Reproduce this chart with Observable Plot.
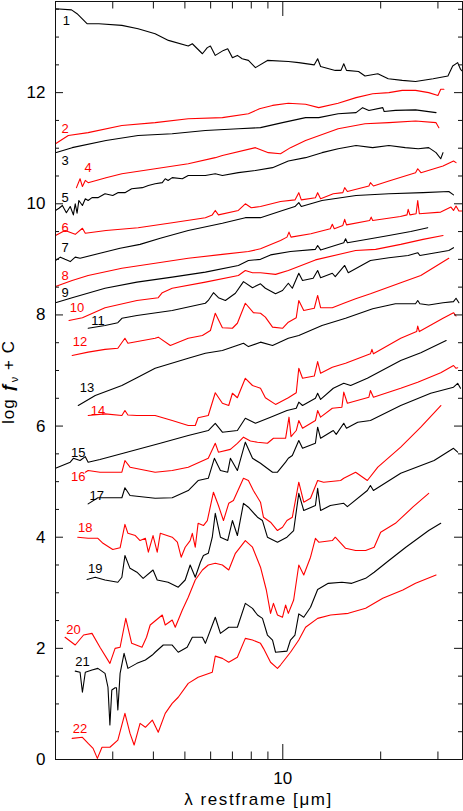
<!DOCTYPE html>
<html>
<head>
<meta charset="utf-8">
<script src="https://cdn.jsdelivr.net/npm/d3@7"></script>
<script src="https://cdn.jsdelivr.net/npm/@observablehq/plot@0.6"></script>
<style>
  html, body { margin: 0; padding: 0; background: #fff; }
  #chart svg { display: block; }
</style>
</head>
<body>
<div id="chart"></div>
<script>
// ---- data: [restframe wavelength (µm), log f_nu + C] ----
const s1 = [[2.0,13.51],[2.24,13.49],[2.33,13.42],[2.5,13.24],[2.72,13.24],[3.2,13.21],[3.59,13.15],[4.05,13.06],[4.45,12.94],[5.12,12.84],[5.27,12.88],[5.66,12.7],[5.86,12.81],[5.99,12.84],[6.2,12.67],[6.57,12.76],[6.77,12.79],[7.0,12.63],[7.25,12.67],[7.5,12.61],[7.84,12.58],[8.24,12.45],[8.97,12.58],[10.4,12.56],[11.2,12.54],[12.5,12.5],[12.8,12.61],[13.07,12.47],[14.5,12.4],[15.1,12.4],[15.4,12.52],[15.7,12.4],[17.1,12.38],[17.9,12.3],[19.6,12.34],[21.1,12.25],[23.3,12.22],[25.6,12.2],[29.0,12.25],[32.2,12.3],[33.3,12.48],[34.5,12.54],[35.2,12.42],[35.6,12.39]];
const s2 = [[2.0,11.08],[2.19,11.23],[2.52,11.28],[3.2,11.41],[4.05,11.46],[5.12,11.53],[6.52,11.55],[7.84,11.62],[8.48,11.71],[9.3,11.77],[10.4,11.81],[11.75,11.79],[12.9,11.73],[14.8,11.81],[16.8,11.91],[18.9,11.98],[21.2,12.0],[23.3,12.04],[25.6,12.04],[28.1,12.0],[30.0,11.95],[30.6,12.06],[31.3,12.06]];
const s3 = [[2.0,10.92],[2.25,11.01],[2.86,11.14],[3.59,11.23],[4.57,11.26],[5.78,11.32],[7.3,11.35],[8.54,11.37],[9.98,11.46],[11.75,11.55],[12.9,11.55],[14.8,11.62],[16.8,11.64],[17.6,11.73],[18.4,11.68],[20.3,11.73],[20.5,11.66],[22.2,11.68],[25.6,11.69],[29.6,11.64]];
const s4 = [[2.32,10.29],[2.38,10.45],[2.42,10.31],[2.47,10.42],[2.52,10.38],[2.86,10.47],[3.2,10.54],[4.05,10.63],[5.12,10.72],[6.2,10.83],[6.52,10.87],[8.24,11.01],[9.03,10.92],[9.84,10.9],[10.56,11.01],[11.75,11.14],[14.8,11.35],[17.9,11.44],[21.2,11.46],[25.6,11.49],[29.6,11.46],[30.2,11.37]];
const s5 = [[2.0,9.88],[2.05,9.92],[2.1,9.97],[2.16,9.84],[2.22,9.95],[2.27,9.8],[2.3,10.0],[2.33,9.83],[2.36,10.06],[2.42,9.97],[2.47,10.09],[2.52,10.06],[2.59,10.11],[2.7,10.11],[2.84,10.18],[3.0,10.15],[3.11,10.2],[3.27,10.2],[3.43,10.27],[3.7,10.29],[3.86,10.33],[4.05,10.36],[4.26,10.38],[4.35,10.45],[4.44,10.42],[4.57,10.47],[4.91,10.45],[5.12,10.51],[5.78,10.51],[6.2,10.54],[6.52,10.51],[7.3,10.56],[8.24,10.6],[9.3,10.65],[10.4,10.77],[11.75,10.83],[13.2,10.92],[14.8,10.99],[16.8,11.05],[18.9,11.01],[21.2,11.05],[23.8,11.01],[26.1,10.99],[28.1,11.01],[29.6,10.92],[30.6,10.81],[31.1,10.92]];
const s6 = [[2.0,9.43],[2.14,9.52],[2.3,9.45],[2.42,9.56],[2.47,9.47],[2.86,9.52],[3.59,9.57],[4.57,9.66],[5.78,9.75],[6.07,9.8],[6.2,9.88],[6.34,9.8],[7.3,9.88],[7.67,10.0],[8.0,9.93],[8.54,9.95],[9.84,10.04],[10.9,10.07],[11.2,10.2],[11.4,10.07],[12.6,10.11],[12.8,10.2],[13.07,10.09],[14.3,10.18],[15.3,10.2],[15.5,10.29],[15.8,10.22],[18.4,10.32],[18.6,10.38],[19.0,10.32],[21.2,10.41],[25.6,10.56],[26.0,10.63],[26.6,10.56],[31.1,10.68],[33.5,10.77],[34.1,10.74]];
const s7 = [[2.0,8.98],[2.07,9.04],[2.14,9.0],[2.22,8.96],[2.3,9.04],[2.38,9.02],[2.74,9.11],[3.16,9.2],[3.64,9.27],[4.2,9.38],[5.12,9.52],[6.52,9.65],[7.67,9.75],[8.54,9.75],[9.98,9.88],[10.9,9.95],[11.2,10.02],[11.4,9.95],[13.2,10.06],[16.8,10.15],[21.2,10.18],[27.0,10.2],[32.4,10.22],[33.5,10.16]];
const s8 = [[2.0,8.51],[2.25,8.62],[2.52,8.71],[3.2,8.84],[4.05,8.93],[5.12,9.02],[6.52,9.09],[7.84,9.14],[8.54,9.19],[9.84,9.34],[10.3,9.4],[10.45,9.49],[10.6,9.4],[12.2,9.46],[14.0,9.55],[14.2,9.63],[14.4,9.55],[15.3,9.61],[15.5,9.72],[15.7,9.62],[18.5,9.7],[18.7,9.76],[18.9,9.7],[23.0,9.77],[24.1,9.8],[24.3,9.9],[24.6,9.8],[25.7,9.82],[26.0,10.06],[26.3,9.82],[30.6,9.85],[32.9,9.94],[33.5,9.88],[34.1,9.96],[34.8,9.87],[35.6,9.87]];
const s9 = [[2.0,8.22],[2.25,8.31],[2.84,8.48],[3.56,8.59],[4.57,8.68],[5.78,8.77],[7.3,8.89],[7.84,8.98],[8.54,9.0],[9.17,9.08],[10.56,9.14],[12.6,9.18],[12.8,9.25],[13.07,9.17],[15.4,9.3],[15.6,9.37],[15.8,9.3],[18.6,9.37],[21.2,9.43],[24.75,9.5],[27.9,9.57]];
const s10 = [[2.2,7.9],[2.42,7.95],[2.84,8.13],[3.56,8.26],[4.14,8.31],[4.26,8.4],[4.57,8.48],[5.78,8.59],[7.3,8.71],[7.67,8.8],[8.07,8.76],[8.54,8.76],[9.5,8.73],[10.4,8.8],[12.6,8.99],[16.75,9.16],[19.3,9.18],[23.05,9.27],[27.0,9.36],[31.1,9.43]];
const s11 = [[2.52,7.76],[2.84,7.81],[3.11,7.86],[3.2,7.94],[3.56,7.99],[4.57,8.08],[5.78,8.21],[5.9,8.26],[6.12,8.4],[6.34,8.31],[6.66,8.26],[7.15,8.39],[7.57,8.6],[8.07,8.49],[8.54,8.56],[8.84,8.48],[9.5,8.38],[9.98,8.44],[10.4,8.57],[10.7,8.48],[11.2,8.75],[11.5,8.62],[12.4,8.66],[12.8,8.8],[13.07,8.67],[14.2,8.75],[14.5,8.69],[15.5,8.89],[15.9,8.76],[18.6,8.98],[21.2,9.03],[24.3,9.07],[26.0,9.12],[26.4,9.07],[32.4,9.16],[33.5,9.21]];
const s12 = [[2.25,7.27],[2.52,7.33],[2.84,7.38],[3.11,7.4],[3.27,7.58],[3.34,7.49],[4.05,7.58],[4.14,7.6],[4.51,7.45],[5.12,7.58],[5.66,7.63],[5.99,7.72],[6.2,8.03],[6.52,7.77],[7.0,7.76],[7.25,7.85],[7.67,8.21],[8.12,8.04],[8.54,8.03],[8.84,7.96],[9.3,7.78],[9.98,7.76],[10.4,7.87],[11.0,7.95],[11.2,8.26],[11.6,8.08],[12.5,8.12],[12.8,8.35],[13.07,8.13],[14.2,8.13],[15.4,8.21],[16.75,8.29],[18.6,8.38],[23.05,8.58],[26.57,8.71],[32.4,9.02]];
const s13 = [[2.35,6.37],[2.65,6.55],[3.2,6.73],[3.56,6.87],[4.05,7.04],[5.12,7.22],[5.78,7.31],[6.52,7.36],[7.57,7.49],[7.84,7.43],[8.54,7.51],[9.3,7.45],[10.4,7.58],[11.2,7.63],[13.2,7.81],[15.6,7.94],[18.9,8.11],[22.2,8.2],[25.6,8.2],[26.0,8.26],[26.4,8.2],[28.1,8.18],[31.1,8.22],[33.5,8.24],[34.1,8.3],[34.8,8.22]];
const s14 = [[2.52,6.19],[2.84,6.22],[3.2,6.19],[3.27,6.28],[3.34,6.2],[3.56,6.19],[4.05,6.19],[4.57,6.1],[5.12,6.01],[5.38,6.01],[5.49,6.15],[5.9,6.19],[6.2,6.6],[6.52,6.41],[6.82,6.37],[7.0,6.59],[7.25,6.51],[7.67,6.86],[8.07,6.73],[8.54,6.68],[8.84,6.51],[9.5,6.39],[10.4,6.51],[11.0,6.6],[11.2,7.04],[11.5,6.86],[12.5,6.9],[12.8,7.16],[13.07,6.95],[14.2,7.06],[15.6,7.13],[18.6,7.3],[18.8,7.38],[19.0,7.3],[23.05,7.58],[25.8,7.7],[26.0,7.8],[26.3,7.7],[31.1,7.94],[33.5,8.04],[34.1,7.98]];
const s15 = [[2.0,5.24],[2.22,5.35],[2.27,5.42],[2.38,5.38],[2.47,5.45],[2.52,5.35],[2.74,5.4],[3.23,5.51],[4.2,5.69],[5.12,5.83],[5.9,5.92],[6.2,6.05],[6.52,5.89],[7.25,5.92],[7.67,6.14],[8.24,6.05],[9.17,6.16],[10.3,6.28],[11.0,6.32],[11.2,6.43],[11.5,6.37],[12.6,6.5],[12.8,6.59],[13.07,6.48],[14.3,6.68],[15.4,6.77],[16.17,6.73],[18.2,6.86],[23.05,7.18],[26.57,7.32],[31.8,7.54]];
const s16 = [[2.47,5.17],[2.52,5.2],[2.74,5.17],[3.2,5.17],[3.27,5.38],[3.39,5.26],[4.05,5.17],[4.57,5.2],[5.12,5.26],[5.9,5.42],[6.2,5.69],[6.34,5.53],[6.9,5.58],[7.25,5.69],[7.57,5.8],[7.95,5.73],[8.36,5.71],[8.97,5.69],[9.36,5.78],[10.2,5.78],[10.45,6.16],[10.6,5.81],[11.0,5.92],[11.2,6.1],[11.5,5.96],[12.6,6.1],[12.8,6.28],[13.07,6.16],[14.2,6.32],[15.2,6.34],[15.4,6.61],[15.8,6.41],[18.4,6.52],[18.6,6.64],[19.0,6.52],[23.05,6.68],[26.0,6.79],[30.6,6.96],[33.5,7.09],[34.1,7.04],[34.5,7.05]];
const s17 = [[2.52,4.6],[2.7,4.71],[3.2,4.71],[3.27,4.89],[3.39,4.75],[4.05,4.7],[4.57,4.71],[5.12,4.84],[5.49,5.02],[5.9,5.06],[6.16,5.42],[6.43,5.2],[6.77,5.17],[6.9,5.42],[7.25,5.2],[7.67,5.71],[8.07,5.42],[8.54,5.33],[8.72,5.29],[9.3,5.17],[9.63,5.17],[10.2,5.35],[10.4,5.42],[10.7,5.47],[11.2,5.74],[11.5,5.6],[12.6,5.69],[12.8,5.98],[13.07,5.78],[14.3,5.92],[14.6,5.85],[15.4,6.05],[15.7,5.96],[17.0,6.07],[18.6,6.1],[23.05,6.37],[28.5,6.59],[33.5,6.7],[34.5,6.77],[35.2,6.68]];
const s18 = [[2.34,4.0],[2.52,3.98],[2.7,3.98],[2.8,3.89],[3.0,3.78],[3.16,3.81],[3.27,4.23],[3.34,4.07],[3.52,4.03],[3.64,3.94],[3.78,3.98],[3.86,3.73],[3.99,4.03],[4.11,3.73],[4.2,4.07],[4.57,4.0],[4.74,3.91],[4.87,3.64],[5.01,3.82],[5.19,3.94],[5.27,4.07],[5.38,3.82],[5.49,4.25],[5.7,4.21],[5.86,4.3],[6.12,4.81],[6.34,4.57],[6.57,4.3],[6.82,4.61],[7.05,4.66],[7.57,5.06],[7.84,5.02],[8.12,4.84],[8.54,4.63],[8.72,4.36],[9.17,4.27],[9.63,4.12],[9.98,4.18],[10.3,4.3],[10.7,4.36],[11.2,4.99],[11.6,4.63],[12.17,4.7],[12.8,5.02],[13.35,4.99],[15.06,5.02],[15.4,5.06],[16.75,5.17],[18.2,5.02],[19.6,5.26],[23.05,5.62],[26.57,5.98],[30.62,6.37]];
const s19 = [[2.5,3.24],[2.65,3.28],[2.84,3.23],[3.11,3.19],[3.2,3.28],[3.27,3.67],[3.39,3.44],[3.56,3.37],[3.72,3.26],[3.99,3.41],[4.11,3.23],[4.44,3.19],[4.77,3.1],[5.01,3.23],[5.19,3.5],[5.38,3.28],[5.58,3.55],[5.7,3.67],[5.9,3.71],[6.07,4.0],[6.2,4.43],[6.43,4.0],[6.77,3.94],[7.0,4.3],[7.25,4.03],[7.57,4.61],[7.84,4.54],[8.36,4.36],[8.66,4.3],[8.97,4.0],[9.63,3.91],[10.3,4.0],[10.8,4.12],[11.2,4.79],[11.6,4.48],[12.6,4.57],[12.8,4.88],[13.07,4.48],[14.0,4.57],[15.4,4.61],[15.8,4.55],[18.2,4.84],[18.6,4.93],[19.0,4.84],[23.05,5.15],[29.2,5.38],[33.5,5.6],[34.5,5.53]];
const s20 = [[2.14,2.2],[2.3,2.06],[2.44,2.24],[2.59,2.27],[2.74,2.02],[2.94,1.73],[3.05,2.0],[3.16,2.02],[3.29,2.54],[3.43,2.09],[3.69,2.02],[3.81,2.2],[3.91,2.42],[4.26,2.6],[4.35,2.42],[4.57,2.51],[4.67,2.38],[4.91,2.69],[5.12,2.92],[5.38,3.23],[5.66,3.41],[5.9,3.5],[6.2,3.53],[6.52,3.5],[6.82,3.41],[7.15,3.71],[7.67,3.94],[8.07,3.82],[8.54,3.46],[8.9,3.05],[9.17,2.63],[9.36,2.81],[9.63,2.6],[9.98,2.56],[10.2,2.78],[10.4,2.63],[10.8,2.87],[11.2,3.5],[11.6,3.32],[12.17,3.64],[12.6,3.98],[12.9,3.91],[14.2,3.94],[14.5,4.0],[15.6,3.8],[16.75,3.76],[17.98,3.76],[19.1,3.82],[20.0,4.09],[22.2,4.25],[25.1,4.54],[28.1,4.79]];
const s21 = [[2.3,1.59],[2.38,1.57],[2.42,1.21],[2.47,1.57],[2.59,1.61],[2.7,1.64],[2.84,1.55],[2.9,1.3],[2.94,0.62],[2.98,1.25],[3.05,1.29],[3.08,1.29],[3.11,0.89],[3.16,1.55],[3.25,1.91],[3.34,1.64],[3.56,1.73],[3.78,1.79],[3.97,1.88],[4.05,1.93],[4.29,2.06],[4.57,2.06],[4.77,1.93],[5.08,2.02],[5.27,2.2],[5.66,2.2],[5.78,2.09],[6.2,2.56],[6.43,2.27],[6.82,2.38],[7.25,2.38],[7.67,2.81],[8.07,2.72],[8.36,2.6],[8.66,2.54],[8.97,2.24],[9.3,2.15],[9.5,1.93],[10.3,1.95],[10.56,2.15],[10.9,2.24],[11.2,2.62],[11.6,2.56],[12.17,2.74],[12.8,3.06],[13.8,3.17],[15.2,3.19],[16.3,3.17],[17.98,3.26],[19.1,3.37],[21.2,3.58],[23.9,3.82],[28.1,4.12],[30.6,4.25]];
const s22 = [[2.25,0.38],[2.42,0.4],[2.52,0.29],[2.61,0.2],[2.69,0.02],[2.78,0.22],[2.94,0.22],[3.11,0.35],[3.27,0.83],[3.39,0.47],[3.49,0.26],[3.64,0.65],[3.78,0.58],[3.97,0.71],[4.14,0.49],[4.35,0.83],[4.57,1.01],[4.77,1.12],[5.12,1.37],[5.49,1.48],[6.07,1.57],[6.2,1.86],[6.52,1.82],[6.82,1.75],[7.25,1.84],[7.67,2.18],[8.07,2.15],[8.54,2.09],[8.72,2.0],[9.17,1.75],[9.63,1.64],[9.84,1.7],[10.56,1.93],[11.2,2.15],[11.75,2.38],[12.8,2.54],[14.03,2.6],[15.9,2.63],[17.98,2.72],[20.3,2.9],[23.4,3.05],[25.6,3.17],[29.6,3.32]];

const seriesIds = [1,2,3,4,5,6,7,8,9,10,11,12,13,14,15,16,17,18,19,20,21,22];
// where each spectrum's number label sits (wavelength µm, level)
const labelWave  = [2.16,2.14,2.14,2.52,2.14,2.14,2.14,2.14,2.14,2.33,2.70,2.38,2.50,2.70,2.35,2.35,2.68,2.47,2.65,2.27,2.42,2.38];
const labelLevel = [13.30,11.35,10.78,10.65,10.11,9.57,9.20,8.71,8.39,8.12,7.90,7.51,6.68,6.28,5.51,5.08,4.75,4.16,3.44,2.33,1.75,0.56];

// axis ticks
const yMajor = [0,2,4,6,8,10,12];
const yMinor = [0.5,1,1.5,2.5,3,3.5,4.5,5,5.5,6.5,7,7.5,8.5,9,9.5,10.5,11,11.5,12.5,13,13.5];
const xMajor = [10];
const xMinor = [3,4,5,6,7,8,9,20,30];

// ---- build ----
const spectra = [s1,s2,s3,s4,s5,s6,s7,s8,s9,s10,s11,s12,s13,s14,s15,s16,s17,s18,s19,s20,s21,s22];
const colorOf = id => (id % 2 === 1 ? "#000000" : "#ff0000");
const rows = spectra.flatMap((s, i) => s.map(([wave, flux]) => ({id: seriesIds[i], wave, flux, color: colorOf(seriesIds[i])})));
const labels = seriesIds.map((id, i) => ({id, wave: labelWave[i], level: labelLevel[i], color: colorOf(id)}));

const W = 463, H = 811, mL = 55, mR = 1, mT = 1, mB = 52;
const innerW = W - mL - mR, innerH = H - mT - mB;
const axisColor = "#111";

const chart = Plot.plot({
  width: W, height: H,
  marginLeft: mL, marginRight: mR, marginTop: mT, marginBottom: mB,
  style: {fontFamily: "'Liberation Sans', Arial, sans-serif", background: "#fff", color: "#000"},
  x: {type: "log", domain: [2, 35.7], axis: null},
  y: {domain: [0, 13.64], axis: null},
  color: {type: "identity"},
  marks: [
    Plot.line(rows, {x: "wave", y: "flux", z: "id", stroke: "color", strokeWidth: 1.1, clip: true}),
    Plot.text(labels, {x: "wave", y: "level", text: d => String(d.id), fill: "color", fontSize: 13, textAnchor: "middle"}),
    // inward tick marks on all four sides
    Plot.tickY(yMajor, {y: d => d, stroke: axisColor, insetRight: innerW - 8}),
    Plot.tickY(yMajor, {y: d => d, stroke: axisColor, insetLeft: innerW - 8}),
    Plot.tickY(yMinor, {y: d => d, stroke: axisColor, insetRight: innerW - 4}),
    Plot.tickY(yMinor, {y: d => d, stroke: axisColor, insetLeft: innerW - 4}),
    Plot.tickX(xMajor, {x: d => d, stroke: axisColor, insetTop: innerH - 15}),
    Plot.tickX(xMajor, {x: d => d, stroke: axisColor, insetBottom: innerH - 15}),
    Plot.tickX(xMinor, {x: d => d, stroke: axisColor, insetTop: innerH - 7.5}),
    Plot.tickX(xMinor, {x: d => d, stroke: axisColor, insetBottom: innerH - 7.5}),
    Plot.axisY(yMajor, {anchor: "left", tickSize: 0, tickPadding: 10, fontSize: 17, label: null, tickFormat: d => String(d)}),
    Plot.axisX(xMajor, {anchor: "bottom", tickSize: 0, tickPadding: 12, fontSize: 17, label: null, tickFormat: d => String(d)}),
    Plot.frame({stroke: axisColor, strokeWidth: 1})
  ]
});

document.getElementById("chart").appendChild(chart);

// axis titles
const svg = d3.select(chart);
svg.append("text")
  .attr("x", mL + innerW / 2)
  .attr("y", 805)
  .attr("text-anchor", "middle")
  .attr("font-size", 17)
  .attr("letter-spacing", "1.6px")
  .attr("fill", "#000")
  .text("λ restframe [μm]");

const yl = svg.append("text")
  .attr("transform", "translate(14,382) rotate(-90)")
  .attr("text-anchor", "middle")
  .attr("font-size", 17)
  .attr("letter-spacing", "1px")
  .attr("fill", "#000");
yl.append("tspan").text("log ");
yl.append("tspan").attr("font-style", "italic").attr("font-weight", "bold").text("ƒ");
yl.append("tspan").attr("font-size", 11).attr("dy", 4).text("ν");
yl.append("tspan").attr("dy", -4).text(" + C");
</script>
</body>
</html>
